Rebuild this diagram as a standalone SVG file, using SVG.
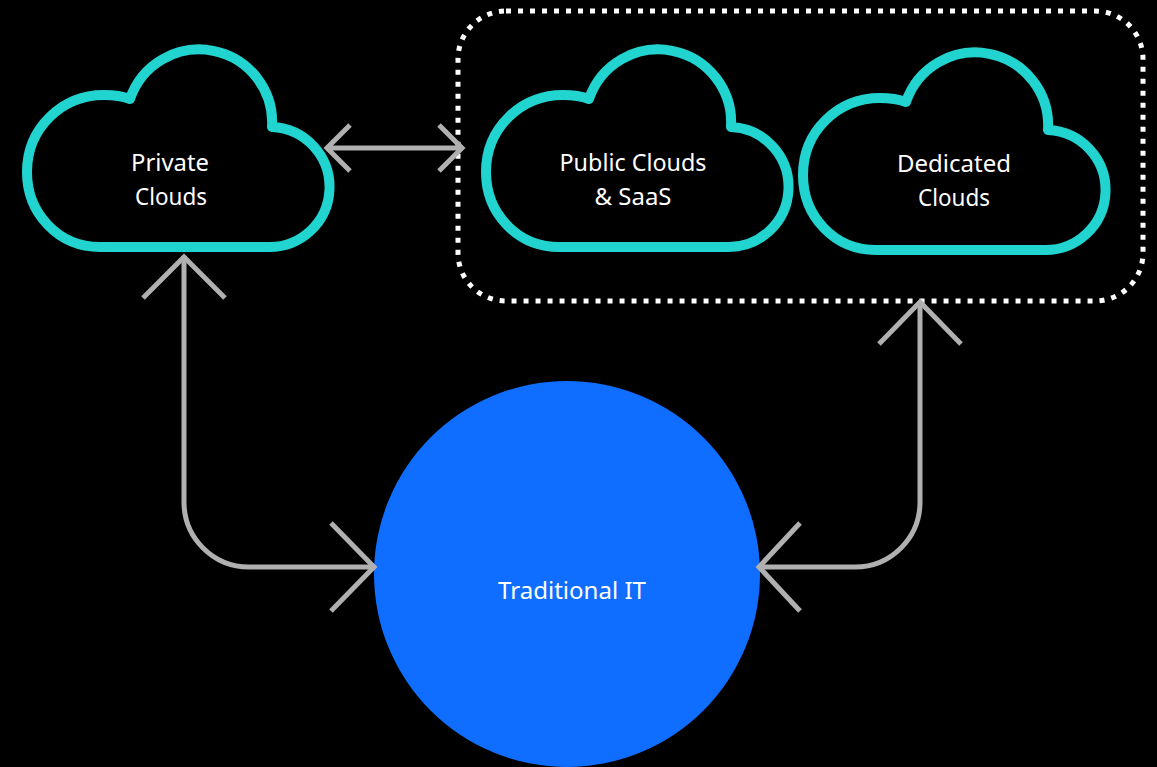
<svg xmlns="http://www.w3.org/2000/svg" xmlns:xlink="http://www.w3.org/1999/xlink" width="1157" height="767" viewBox="0 0 1157 767">
<style>
.cloud{fill:none;stroke:#22D4D0;stroke-width:10;stroke-linejoin:round}
.lbl{font-family:"Noto Sans","Open Sans",sans-serif;font-size:23px;fill:#FFFFFF;text-anchor:middle}
.conn{fill:none;stroke:#B0B0B0;stroke-width:5}
.group{fill:none;stroke:#FFFFFF;stroke-width:5;stroke-dasharray:5 7}
</style>
<defs>
<path id="cloudShape" d="M 100,247 C 58,247 27,213 27,172 C 27,128 62,95 104,95 C 114,95 122,96 130,99 A 73 73 0 0 1 272,127 A 60 60 0 0 1 267,247 Z"/>
</defs>
<rect width="1157" height="767" fill="#000000"/>
<g id="cloud-group">
<rect class="group" x="458" y="11" width="685" height="290" rx="48" ry="48"/>
</g>
<g id="traditional-it">
<circle cx="567" cy="574" r="193" fill="#0F6EFF"/>
<text class="lbl" x="572" y="599" textLength="148" lengthAdjust="spacingAndGlyphs">Traditional IT</text>
</g>
<g id="private-clouds">
<use xlink:href="#cloudShape" class="cloud"/>
<text class="lbl" x="170" y="171" textLength="78" lengthAdjust="spacingAndGlyphs">Private</text>
<text class="lbl" x="171" y="205" textLength="72" lengthAdjust="spacingAndGlyphs">Clouds</text>
</g>
<g id="public-clouds">
<use xlink:href="#cloudShape" class="cloud" transform="translate(459,0)"/>
<text class="lbl" x="633" y="171" textLength="147" lengthAdjust="spacingAndGlyphs">Public Clouds</text>
<text class="lbl" x="633" y="205" textLength="77" lengthAdjust="spacingAndGlyphs">&amp; SaaS</text>
</g>
<g id="dedicated-clouds">
<use xlink:href="#cloudShape" class="cloud" transform="translate(776,3)"/>
<text class="lbl" x="954" y="172" textLength="114" lengthAdjust="spacingAndGlyphs">Dedicated</text>
<text class="lbl" x="954" y="206" textLength="72" lengthAdjust="spacingAndGlyphs">Clouds</text>
</g>
<g id="connectors">
<path class="conn" d="M 326,148 L 463,148"/>
<path class="conn" d="M 350,125 L 327,148 L 350,171"/>
<path class="conn" d="M 439,125 L 462,148 L 439,171"/>
<path class="conn" d="M 184,256 L 184,502 A 65 65 0 0 0 249,567 L 375,567"/>
<path class="conn" d="M 143,298 L 184,257 L 225,298"/>
<path class="conn" d="M 331,523 L 374,567 L 331,611"/>
<path class="conn" d="M 920,301 L 920,502 A 65 65 0 0 1 855,567 L 758,567"/>
<path class="conn" d="M 879,344 L 920,302 L 961,344"/>
<path class="conn" d="M 800,523 L 759,567 L 800,611"/>
</g>
</svg>
